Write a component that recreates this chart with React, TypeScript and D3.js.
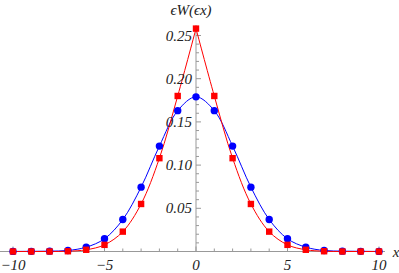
import * as d3 from "d3";

const xs = [-10, -9, -8, -7, -6, -5, -4, -3, -2, -1, 0, 1, 2, 3, 4, 5, 6, 7, 8, 9, 10];
const blueVals = [0.0001, 0.0002, 0.0004, 0.0012, 0.005, 0.0147, 0.037, 0.0745, 0.122, 0.163, 0.179, 0.163, 0.122, 0.0745, 0.037, 0.0147, 0.005, 0.0012, 0.0004, 0.0002, 0.0001];
const redVals = [0, 0, 0, 0.0003, 0.002, 0.0077, 0.023, 0.055, 0.108, 0.18, 0.258, 0.18, 0.108, 0.055, 0.023, 0.0077, 0.002, 0.0003, 0, 0, 0];
const xTickLabels = [-10, -5, 0, 5, 10];
const yTickLabels = [0.05, 0.1, 0.15, 0.2, 0.25];

const width = 399;
const height = 273;

const App = () => {
  const x = d3.scaleLinear().domain([-10, 10]).range([13, 379]);
  const y = d3.scaleLinear().domain([0, 0.25]).range([251.5, 35.5]);

  const blue = xs.map((v, i) => ({ x: v, y: blueVals[i] }));
  const red = xs.map((v, i) => ({ x: v, y: redVals[i] }));

  const line = d3
    .line<{ x: number; y: number }>()
    .x((d) => x(d.x))
    .y((d) => y(d.y))
    .curve(d3.curveCatmullRom.alpha(0.5));

  // red has a cusp at the peak, so draw each side on its own
  const redLeft = red.filter((d) => d.x <= 0);
  const redRight = red.filter((d) => d.x >= 0);

  const minorX = d3.range(-10, 10.5, 1).filter((v) => v % 5 !== 0);
  const minorY = d3.range(0.01, 0.261, 0.01).filter((v) => Math.abs(v * 20 - Math.round(v * 20)) > 1e-6);

  const x0 = x(0);
  const y0 = y(0);
  const axisColor = "#999";
  const txt = {
    fontFamily: "'Liberation Serif'",
    fontStyle: "italic",
    fontSize: 15,
    fill: "#222",
  };

  return (
    <svg width={width} height={height} style={{ position: "absolute", left: 0, top: 0 }}>
      <rect width={width} height={height} fill="#fff" />
      {/* axes */}
      <line x1={0} x2={width - 14} y1={y0} y2={y0} stroke={axisColor} strokeWidth={1} />
      <line x1={x0} x2={x0} y1={y0} y2={y(0.262)} stroke={axisColor} strokeWidth={1} />
      {minorX.map((v) => (
        <line key={"mx" + v} x1={x(v)} x2={x(v)} y1={y0} y2={y0 - 3} stroke={axisColor} />
      ))}
      {xTickLabels.map((v) => (
        <line key={"Mx" + v} x1={x(v)} x2={x(v)} y1={y0} y2={y0 - 5} stroke={axisColor} />
      ))}
      {minorY.map((v) => (
        <line key={"my" + v} x1={x0} x2={x0 + 3} y1={y(v)} y2={y(v)} stroke={axisColor} />
      ))}
      {yTickLabels.map((v) => (
        <line key={"My" + v} x1={x0} x2={x0 + 5} y1={y(v)} y2={y(v)} stroke={axisColor} />
      ))}
      {/* curves */}
      <path d={line(blue) ?? ""} fill="none" stroke="#0000ff" strokeWidth={1} />
      <path d={line(redLeft) ?? ""} fill="none" stroke="#ff0000" strokeWidth={1} />
      <path d={line(redRight) ?? ""} fill="none" stroke="#ff0000" strokeWidth={1} />
      {/* points */}
      {blue.map((d) => (
        <circle key={"b" + d.x} cx={x(d.x)} cy={y(d.y)} r={3.7} fill="#0000ff" />
      ))}
      {red.map((d) => (
        <rect key={"r" + d.x} x={x(d.x) - 3.2} y={y(d.y) - 3.2} width={6.4} height={6.4} fill="#ff0000" />
      ))}
      {/* tick labels */}
      {xTickLabels.map((v) => (
        <text key={"lx" + v} x={x(v)} y={270} textAnchor="middle" style={txt}>
          {v < 0 ? "\u2212" + Math.abs(v) : String(v)}
        </text>
      ))}
      {yTickLabels.map((v) => (
        <text key={"ly" + v} x={x0 - 4} y={y(v) + 5} textAnchor="end" style={txt}>
          {d3.format(".2f")(v)}
        </text>
      ))}
      <text x={396} y={257} textAnchor="middle" style={txt}>x</text>
      <text x={191} y={15} textAnchor="middle" style={txt}>{"\u03F5W(\u03F5x)"}</text>
    </svg>
  );
};

export default App;
